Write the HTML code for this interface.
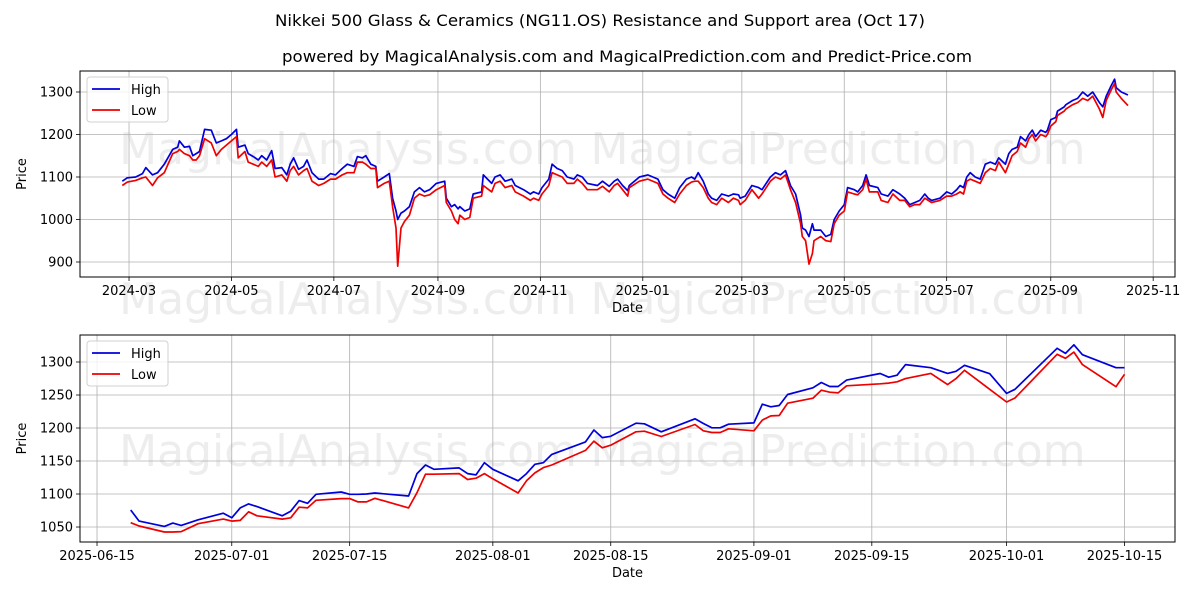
<!DOCTYPE html>
<html><head><meta charset="utf-8"><style>
body{margin:0;background:#fff}
svg{display:block;font-family:"DejaVu Sans","Liberation Sans",sans-serif}
</style></head><body>
<svg id="chart" width="1200" height="600" viewBox="0 0 1200 600" xmlns="http://www.w3.org/2000/svg">
<rect width="1200" height="600" fill="#fff"/>
<text x="600" y="26" text-anchor="middle" font-size="16" textLength="650" lengthAdjust="spacingAndGlyphs">Nikkei 500 Glass &amp; Ceramics (NG11.OS) Resistance and Support area (Oct 17)</text>
<text x="627" y="62" text-anchor="middle" font-size="16" textLength="690" lengthAdjust="spacingAndGlyphs">powered by MagicalAnalysis.com and MagicalPrediction.com and Predict-Price.com</text>
<g id="wm" fill="#d8d8d8" fill-opacity="0.45" font-size="44" text-anchor="middle">
<text x="348" y="164">MagicalAnalysis.com</text><text x="838" y="164">MagicalPrediction.com</text>
<text x="348" y="314">MagicalAnalysis.com</text><text x="838" y="314">MagicalPrediction.com</text>
<text x="348" y="466">MagicalAnalysis.com</text><text x="838" y="466">MagicalPrediction.com</text>
</g>
<g id="top"></g>
<g id="bot"></g>
</svg>
<script>
// Top panel: days since 2024-03-01
const topDays=[-4,-1,4,8,10,14,17,21,26,29,30,33,36,38,40,42,45,49,52,55,58,61,64,65,69,71,74,77,79,82,85,87,91,94,96,98,101,104,106,109,113,116,120,123,127,130,134,136,139,141,144,147,148,152,155,157,159,160,162,164,167,170,173,176,179,183,188,189,192,194,196,197,200,203,205,210,211,216,218,221,224,228,230,235,239,241,244,246,250,252,255,258,261,265,267,270,273,279,282,286,289,291,294,297,298,304,309,315,318,321,325,328,332,335,337,339,342,345,347,350,353,357,360,363,364,367,371,375,377,382,385,388,391,394,397,400,401,403,405,407,408,412,415,418,420,423,426,428,432,434,437,439,441,446,448,452,455,459,462,465,468,471,474,476,478,483,487,490,493,495,497,499,501,504,507,510,513,516,518,522,524,526,529,531,534,536,538,540,543,546,547,549,552,553,557,558,562,565,568,571,574,578,580,582,585,587,588,591,595];
const topHigh=[1090,1098,1100,1108,1122,1105,1110,1130,1165,1170,1185,1170,1172,1150,1155,1160,1212,1210,1180,1185,1190,1200,1212,1170,1175,1155,1148,1140,1150,1140,1162,1120,1122,1105,1130,1145,1118,1125,1140,1110,1095,1095,1108,1105,1120,1130,1125,1148,1145,1150,1130,1125,1090,1100,1108,1050,1020,1000,1015,1020,1030,1065,1075,1065,1070,1085,1090,1050,1030,1035,1025,1030,1020,1025,1060,1065,1105,1085,1100,1105,1090,1095,1080,1070,1060,1065,1060,1075,1095,1130,1120,1115,1100,1095,1105,1100,1085,1080,1090,1078,1090,1095,1080,1068,1080,1100,1105,1095,1070,1060,1050,1075,1095,1100,1095,1110,1090,1060,1050,1045,1060,1055,1060,1058,1050,1055,1080,1075,1070,1100,1110,1105,1115,1080,1060,1010,980,975,960,990,975,975,960,965,1000,1020,1035,1075,1070,1065,1080,1105,1080,1075,1060,1055,1070,1060,1050,1035,1040,1045,1060,1050,1045,1050,1065,1060,1070,1080,1075,1100,1110,1100,1095,1130,1135,1130,1145,1130,1155,1165,1170,1195,1185,1200,1210,1195,1210,1205,1210,1235,1240,1255,1265,1270,1280,1285,1300,1290,1300,1275,1265,1290,1315,1330,1310,1300,1293];
const topLow=[1080,1088,1092,1098,1100,1080,1098,1110,1155,1160,1165,1155,1150,1140,1140,1150,1190,1180,1150,1165,1175,1185,1195,1145,1160,1135,1130,1125,1135,1125,1140,1100,1105,1090,1115,1125,1105,1115,1120,1090,1080,1085,1095,1095,1105,1110,1110,1135,1135,1130,1120,1120,1075,1085,1090,1030,980,890,980,995,1010,1050,1060,1055,1058,1070,1080,1040,1020,1000,990,1010,1000,1005,1050,1055,1080,1065,1085,1090,1075,1080,1065,1055,1045,1050,1045,1060,1080,1110,1105,1100,1085,1085,1095,1085,1070,1070,1078,1065,1080,1085,1070,1055,1075,1090,1095,1085,1060,1050,1040,1060,1080,1088,1090,1090,1075,1050,1040,1035,1050,1040,1050,1045,1035,1045,1070,1050,1060,1090,1100,1095,1105,1070,1040,990,960,950,895,920,950,960,950,948,990,1010,1020,1065,1060,1058,1070,1095,1065,1065,1045,1040,1060,1045,1045,1030,1035,1035,1050,1045,1040,1045,1055,1055,1060,1065,1060,1090,1095,1090,1085,1110,1120,1115,1135,1110,1130,1150,1160,1180,1170,1190,1200,1185,1200,1195,1200,1220,1230,1245,1255,1260,1270,1275,1285,1280,1290,1260,1240,1280,1305,1320,1300,1285,1268];
const topXTicks=["2024-03","2024-05","2024-07","2024-09","2024-11","2025-01","2025-03","2025-05","2025-07","2025-09","2025-11"];
const topXTickDays=[0,61,122,184,245,306,365,426,487,549,610];
const topYTicks=[900,1000,1100,1200,1300];
// Bottom panel: days since 2025-06-15
const botDays=[4,5,8,9,10,12,15,16,17,18,19,22,23,24,25,26,29,30,31,32,33,37,38,39,40,43,44,45,46,47,50,51,52,53,54,58,59,60,61,64,65,67,71,72,73,74,75,78,79,80,81,82,85,86,87,88,89,93,94,95,96,99,101,102,103,106,108,109,114,115,116,117,121,122];
const botHigh=[1075.8,1059,1051,1056,1052.5,1061,1071,1064,1079,1085,1081,1067,1074,1090,1086,1099.5,1103,1099.5,1099.5,1100,1101.5,1097,1131,1144,1137.5,1139.5,1131,1129,1147.5,1137.5,1120,1131,1145,1147.5,1160,1179,1197,1185.5,1187.5,1207.3,1206.3,1194.2,1213.9,1206.8,1200.3,1200.3,1205.8,1207.8,1236.1,1232.1,1234.1,1250.8,1260.9,1268.9,1262.9,1262.9,1272.5,1282.6,1277,1280,1296,1291.4,1282.8,1285.9,1295,1282.3,1252.5,1258.6,1320.7,1313,1326,1311,1291.4,1291.4];
const botLow=[1056.6,1051.5,1042.5,1042.5,1043,1055,1062,1059,1060,1073,1067,1062,1064,1080,1079,1090.5,1093,1093,1088,1088,1093.5,1079,1102,1130,1130,1131,1122,1124,1131,1123,1101.5,1120,1132,1140,1144,1166,1180,1170,1174,1194.2,1195.2,1187.2,1205.3,1195.7,1193.2,1193.2,1198.8,1195.7,1211.9,1218.4,1218.9,1237.6,1245.2,1257.3,1254.2,1253.2,1263.9,1266.9,1268,1270,1274.8,1282.8,1265.8,1274.8,1287.4,1258.6,1239.4,1245.5,1311.6,1305.6,1315,1296,1262.6,1281.3];
const botXTicks=["2025-06-15","2025-07-01","2025-07-15","2025-08-01","2025-08-15","2025-09-01","2025-09-15","2025-10-01","2025-10-15"];
const botXTickDays=[0,16,30,47,61,78,92,108,122];
const botYTicks=[1050,1100,1150,1200,1250,1300];

const NS="http://www.w3.org/2000/svg";
function mk(parent,tag,attrs){const e=document.createElementNS(NS,tag);for(const k in attrs)e.setAttribute(k,attrs[k]);parent.appendChild(e);return e;}

function panel(g,cfg){
  const {x0,x1,y0,y1,dmin,dmax,vmin,vmax,days,hi,lo,xt,xtd,yt,prefix}=cfg;
  const sx=d=>x0+(d-dmin)/(dmax-dmin)*(x1-x0);
  const sy=v=>y1-(v-vmin)/(vmax-vmin)*(y1-y0);
  const grid=mk(g,'g',{stroke:'#b0b0b0','stroke-width':'0.8'});
  
  
  xt.forEach((t,i)=>{const x=sx(xtd[i]);
    mk(grid,'line',{x1:x,x2:x,y1:y0,y2:y1});
    mk(g,'line',{x1:x,x2:x,y1:y1,y2:y1+4,stroke:'#000','stroke-width':'0.8'});
    const tx=mk(g,'text',{x:x,y:y1+18,'text-anchor':'middle','font-size':'13'});
    
    
    tx.textContent=t;});
  yt.forEach(v=>{const y=sy(v);
    mk(grid,'line',{x1:x0,x2:x1,y1:y,y2:y});
    mk(g,'line',{x1:x0-4,x2:x0,y1:y,y2:y,stroke:'#000','stroke-width':'0.8'});
    const tx=mk(g,'text',{x:x0-7,y:y+4.5,'text-anchor':'end','font-size':'13'});
    
    
    tx.textContent=v;});
  const mkLine=(arr,col,name)=>{
    const p=mk(g,'polyline',{points:arr.map((v,i)=>sx(days[i]).toFixed(1)+','+sy(v).toFixed(1)).join(' '),fill:'none',stroke:col,'stroke-width':'1.7','stroke-linejoin':'round'});
    
    };
  mkLine(hi,'#0000dd',prefix+'-high-line');
  mkLine(lo,'#ee0000',prefix+'-low-line');
  const fr=mk(g,'rect',{x:x0,y:y0,width:x1-x0,height:y1-y0,fill:'none',stroke:'#000','stroke-width':'1'});
  
  
  const xl=mk(g,'text',{x:(x0+x1)/2,y:y1+35,'text-anchor':'middle','font-size':'13'});
  
  
  xl.textContent='Date';
  const yl=mk(g,'text',{x:0,y:0,'text-anchor':'middle','font-size':'13',transform:`translate(26,${(y0+y1)/2}) rotate(-90)`});
  
  
  yl.textContent='Price';
  const lg=mk(g,'g',{});
  
  
  mk(lg,'rect',{x:x0+7,y:y0+6,width:81,height:45,rx:3,fill:'#fff','fill-opacity':'0.8',stroke:'#d0d0d0'});
  [['High','#0000dd',18],['Low','#ee0000',39]].forEach(([t,c,dy])=>{
    const it=mk(lg,'g',{});
    
    
    mk(it,'line',{x1:x0+12,x2:x0+40,y1:y0+dy,y2:y0+dy,stroke:c,'stroke-width':'1.7'});
    const tx=mk(it,'text',{x:x0+51,y:y0+dy+5,'font-size':'13'});tx.textContent=t;});
}
panel(document.getElementById('top'),{x0:80,x1:1175,y0:71,y1:277,dmin:-29.2,dmax:623,vmin:864.7,vmax:1349.4,days:topDays,hi:topHigh,lo:topLow,xt:topXTicks,xtd:topXTickDays,yt:topYTicks,prefix:'top'});
panel(document.getElementById('bot'),{x0:80,x1:1175,y0:335,y1:542,dmin:-2.02,dmax:128.0,vmin:1027.3,vmax:1340.9,days:botDays,hi:botHigh,lo:botLow,xt:botXTicks,xtd:botXTickDays,yt:botYTicks,prefix:'bottom'});
</script>
</body></html>
